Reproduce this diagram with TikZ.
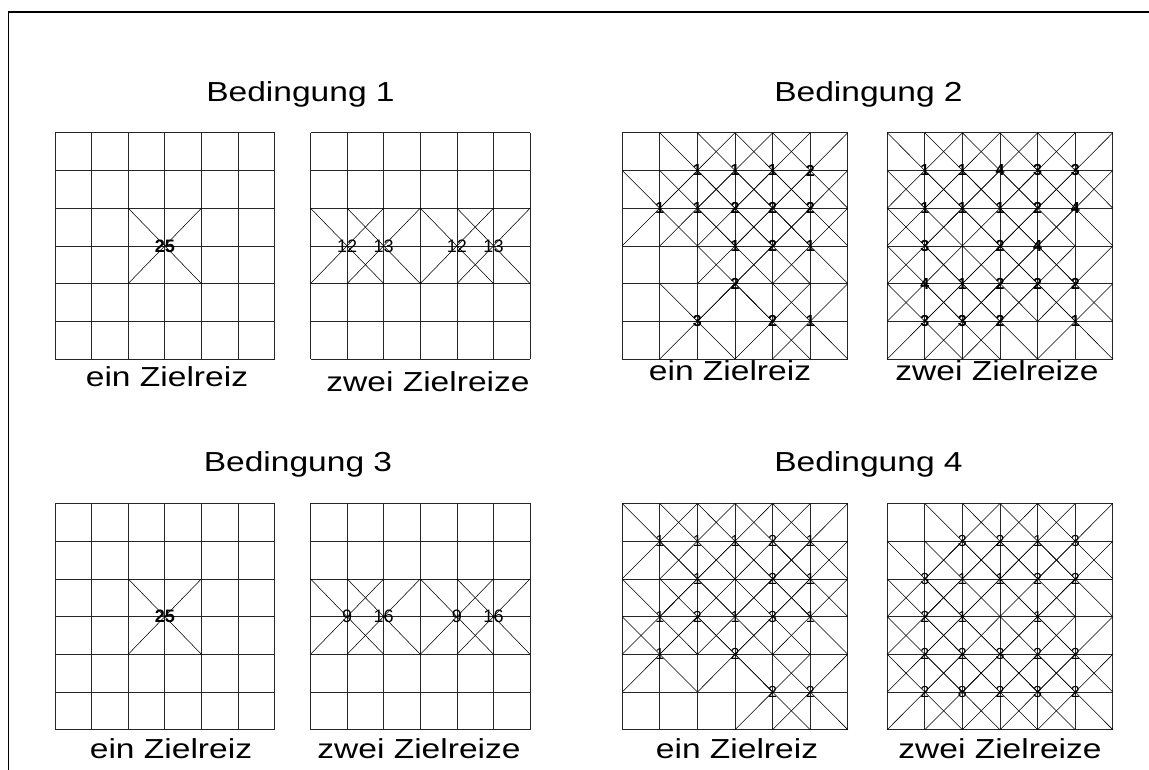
\documentclass[tikz,border=0pt]{standalone}
\usepackage{fontspec}
\setmainfont{Liberation Sans}
\newfontfamily\widefont[FakeStretch=1.22]{Liberation Sans}
\usetikzlibrary{positioning}
\tikzstyle{feld}=[line width=0.75pt,draw=black!85]
\tikzstyle{kreuz}=[line width=0.55pt]
\tikzstyle{zahl}=[font=\fontsize{16}{16}\selectfont,inner sep=0pt]
\tikzstyle{zahlfett}=[zahl,font=\fontsize{16}{16}\selectfont\bfseries]
\tikzstyle{gross}=[font=\fontsize{18}{18}\selectfont,inner sep=0pt]
\tikzstyle{titel}=[font=\widefont\fontsize{27.5}{27.5}\selectfont,anchor=base,inner sep=0pt]

\begin{document}
\begin{tikzpicture}[x=1pt,y=1pt]
\useasboundingbox (0,0) rectangle (1149,770);
\draw[line width=1.4pt] (8.7,0) -- (8.7,758) -- (1149,758);
        % Bedingung 1
        \node[titel] (bed1) at (300.5,668) {Bedingung 1};
        \begin{scope}[shift={(55,637.2)},x=36.6pt,y=-37.7pt]
          \foreach \k in {0,...,6}{
            \draw[feld] (\k,0) -- (\k,6);
            \draw[feld] (0,\k) -- (6,\k);
          }
          \foreach \i/\j/\n in {3/3/25}{
            \draw[kreuz] ({\i-1},{\j-1}) -- ({\i+1},{\j+1}) ({\i-1},{\j+1}) -- ({\i+1},{\j-1});
            \node[gross,font=\fontsize{18}{18}\selectfont\bfseries] (g1-\i-\j) at (\i,\j) {\n};
          }
        \end{scope}
        \node[titel] (ein1) at (167,383) {ein Zielreiz};
        \begin{scope}[shift={(310.5,637.2)},x=36.6pt,y=-37.7pt]
          \foreach \k in {0,...,6}{
            \draw[feld] (\k,0) -- (\k,6);
            \draw[feld] (0,\k) -- (6,\k);
          }
          \foreach \i/\j/\n in {1/3/12, 2/3/13, 4/3/12, 5/3/13}{
            \draw[kreuz] ({\i-1},{\j-1}) -- ({\i+1},{\j+1}) ({\i-1},{\j+1}) -- ({\i+1},{\j-1});
            \node[gross] (g2-\i-\j) at (\i,\j) {\n};
          }
        \end{scope}
        \node[titel] (zwei1) at (428,378) {zwei Zielreize};
        % Bedingung 2
        \node[titel] (bed2) at (868.5,668) {Bedingung 2};
        \begin{scope}[shift={(622.2,637.2)},x=37.6pt,y=-37.7pt]
          \foreach \k in {0,...,6}{
            \draw[feld] (\k,0) -- (\k,6);
            \draw[feld] (0,\k) -- (6,\k);
          }
          \foreach \i/\j/\n in {2/1/1, 3/1/1, 4/1/1, 5/1/2,
                                1/2/1, 2/2/1, 3/2/2, 4/2/2, 5/2/2,
                                3/3/1, 4/3/2, 5/3/1,
                                3/4/2,
                                2/5/3, 4/5/2, 5/5/1}{
            \draw[kreuz] ({\i-1},{\j-1}) -- ({\i+1},{\j+1}) ({\i-1},{\j+1}) -- ({\i+1},{\j-1});
            \node[zahlfett] (g3-\i-\j) at (\i,\j) {\n};
          }
        \end{scope}
        \node[titel] (ein2) at (730,389) {ein Zielreiz};
        \begin{scope}[shift={(887.2,637.2)},x=37.6pt,y=-37.7pt]
          \foreach \k in {0,...,6}{
            \draw[feld] (\k,0) -- (\k,6);
            \draw[feld] (0,\k) -- (6,\k);
          }
          \foreach \i/\j/\n in {1/1/1, 2/1/1, 3/1/4, 4/1/3, 5/1/3,
                                1/2/1, 2/2/1, 3/2/1, 4/2/2, 5/2/4,
                                1/3/3, 3/3/2, 4/3/4,
                                1/4/4, 2/4/1, 3/4/2, 4/4/2, 5/4/2,
                                1/5/3, 2/5/3, 3/5/2, 5/5/1}{
            \draw[kreuz] ({\i-1},{\j-1}) -- ({\i+1},{\j+1}) ({\i-1},{\j+1}) -- ({\i+1},{\j-1});
            \node[zahlfett] (g4-\i-\j) at (\i,\j) {\n};
          }
        \end{scope}
        \node[titel] (zwei2) at (997,389) {zwei Zielreize};
        % Bedingung 3
        \node[titel] (bed3) at (298,298) {Bedingung 3};
        \begin{scope}[shift={(55,266.5)},x=36.6pt,y=-37.7pt]
          \foreach \k in {0,...,6}{
            \draw[feld] (\k,0) -- (\k,6);
            \draw[feld] (0,\k) -- (6,\k);
          }
          \foreach \i/\j/\n in {3/3/25}{
            \draw[kreuz] ({\i-1},{\j-1}) -- ({\i+1},{\j+1}) ({\i-1},{\j+1}) -- ({\i+1},{\j-1});
            \node[gross,font=\fontsize{18}{18}\selectfont\bfseries] (g5-\i-\j) at (\i,\j) {\n};
          }
        \end{scope}
        \node[titel] (ein3) at (171,11) {ein Zielreiz};
        \begin{scope}[shift={(310.5,266.5)},x=36.6pt,y=-37.7pt]
          \foreach \k in {0,...,6}{
            \draw[feld] (\k,0) -- (\k,6);
            \draw[feld] (0,\k) -- (6,\k);
          }
          \foreach \i/\j/\n in {1/3/9, 2/3/16, 4/3/9, 5/3/16}{
            \draw[kreuz] ({\i-1},{\j-1}) -- ({\i+1},{\j+1}) ({\i-1},{\j+1}) -- ({\i+1},{\j-1});
            \node[gross] (g6-\i-\j) at (\i,\j) {\n};
          }
        \end{scope}
        \node[titel] (zwei3) at (419,11) {zwei Zielreize};
        % Bedingung 4
        \node[titel] (bed4) at (868.5,298) {Bedingung 4};
        \begin{scope}[shift={(622.2,266.5)},x=37.6pt,y=-37.7pt]
          \foreach \k in {0,...,6}{
            \draw[feld] (\k,0) -- (\k,6);
            \draw[feld] (0,\k) -- (6,\k);
          }
          \foreach \i/\j/\n in {1/1/1, 2/1/1, 3/1/1, 4/1/2, 5/1/1,
                                2/2/1, 4/2/2, 5/2/1,
                                1/3/1, 2/3/2, 3/3/1, 4/3/3, 5/3/1,
                                1/4/1, 3/4/2,
                                4/5/2, 5/5/2}{
            \draw[kreuz] ({\i-1},{\j-1}) -- ({\i+1},{\j+1}) ({\i-1},{\j+1}) -- ({\i+1},{\j-1});
            \node[zahl] (g7-\i-\j) at (\i,\j) {\n};
          }
        \end{scope}
        \node[titel] (ein4) at (737,11) {ein Zielreiz};
        \begin{scope}[shift={(887.2,266.5)},x=37.6pt,y=-37.7pt]
          \foreach \k in {0,...,6}{
            \draw[feld] (\k,0) -- (\k,6);
            \draw[feld] (0,\k) -- (6,\k);
          }
          \foreach \i/\j/\n in {2/1/3, 3/1/2, 4/1/1, 5/1/3,
                                1/2/3, 2/2/1, 3/2/1, 4/2/2, 5/2/2,
                                1/3/2, 2/3/1, 4/3/1,
                                1/4/2, 2/4/2, 3/4/3, 4/4/2, 5/4/2,
                                1/5/2, 2/5/8, 3/5/2, 4/5/3, 5/5/2}{
            \draw[kreuz] ({\i-1},{\j-1}) -- ({\i+1},{\j+1}) ({\i-1},{\j+1}) -- ({\i+1},{\j-1});
            \node[zahl] (g8-\i-\j) at (\i,\j) {\n};
          }
        \end{scope}
        \node[titel] (zwei4) at (1000,11) {zwei Zielreize};
      \end{tikzpicture}
\end{document}
